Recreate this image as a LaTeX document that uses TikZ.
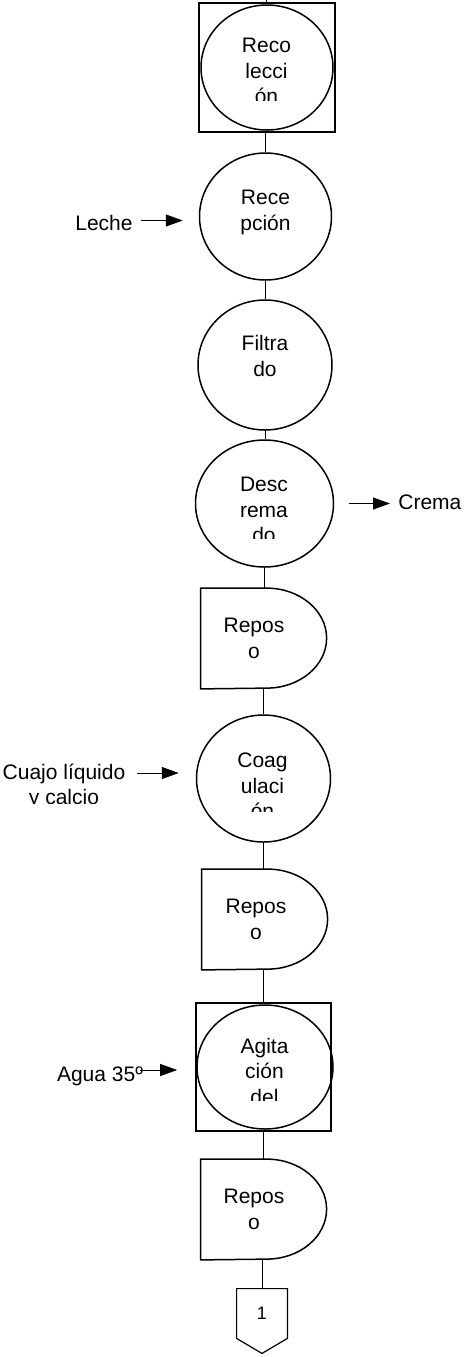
\documentclass[tikz,border=0pt]{standalone}
\usepackage{fontspec}
\setmainfont{Liberation Sans}
\usetikzlibrary{arrows.meta, positioning, calc, shapes.geometric}
\tikzset{
  proc/.style={draw, ellipse, line width=0.75pt, inner sep=0pt},
  sqframe/.style={draw, rectangle, line width=0.85pt, inner sep=0pt},
  lbl/.style={align=center, inner sep=0pt, font=\fontsize{10.5}{12.75}\selectfont},
  waitbox/.style={lbl, rectangle, minimum height=50pt},
  flowline/.style={line width=0.5pt},
  flowarrow/.style={line width=0.5pt, -{Triangle[length=8.5pt, width=6pt]}},
  waitline/.style={line width=0.75pt},
}

\begin{document}
\begin{tikzpicture}[x=0.5pt, y=-0.5pt]
  \useasboundingbox (0,0) rectangle (465,1357);
  % --- recoleccion ---
  \coordinate (top) at (266,0);
  \node[sqframe, minimum width=68pt, minimum height=64.5pt] (recolSq) at (267,67.5) {};
  \node[proc, minimum width=66pt, minimum height=62.5pt] (recol) at (267,67.5) {};
  \begin{scope}
    \clip (200,30) rectangle (334,100);
    \node[lbl] (recolT) at (266.5,71.2) {Reco\\lecci\\ón};
  \end{scope}
  \draw[flowline] (top) -- (top |- recolSq.north);
  % --- recepcion ---
  \node[proc, minimum width=66pt, minimum height=63.5pt] (recep) at (265.5,216.5) {};
  \node[lbl] (recepT) at (265.5,212.5) {Rece\\pción};
  \draw[flowline] (recep.north |- recolSq.south) -- (recep.north);
  \node[lbl] (lecheT) at (104,222.5) {Leche};
  \draw[flowarrow] ([xshift=4pt,yshift=1pt]lecheT.east) -- ([xshift=-8pt,yshift=1pt]lecheT.east -| recep.west);
  % --- filtrado ---
  \node[proc, minimum width=67pt, minimum height=65pt] (filt) at (265,365) {};
  \node[lbl] (filtT) at (265,356.2) {Filtra\\do};
  \draw[flowline] (recep.south) -- (recep.south |- filt.north);
  % --- descremado ---
  \node[proc, minimum width=69pt, minimum height=63.5pt] (desc) at (264.5,503.5) {};
  \begin{scope}
    \clip (196,460) rectangle (333,538);
    \node[lbl] (descT) at (264,510) {Desc\\rema\\do};
  \end{scope}
  \draw[flowline] (filt.south) -- (filt.south |- desc.north);
  \node[lbl, anchor=west] (cremaT) at (398,502.5) {Crema};
  \draw[flowarrow] ([xshift=7.5pt]desc.east) -- ([xshift=-4pt]desc.east -| cremaT.west);
  % --- reposo 1 ---
  \node[waitbox, minimum width=53pt] (rep1) at (254,638.5) {Repos\\o};
  \draw[waitline] (rep1.north west) -- ++(66,0)
    arc[start angle=-90, end angle=90, x radius=60, y radius=50] -- (rep1.south west) -- cycle;
  \draw[flowline] (desc.south) -- (desc.south |- rep1.north);
  % --- coagulacion ---
  \node[proc, minimum width=67pt, minimum height=63.5pt] (coag) at (263.5,778.5) {};
  \begin{scope}
    \clip (197,740) rectangle (330,811.7);
    \node[lbl] (coagT) at (262.5,786) {Coag\\ulaci\\ón};
  \end{scope}
  \draw[flowline] (coag.north |- rep1.south) -- (coag.north);
  \begin{scope}
    \clip (0,750) rectangle (135,803.3);
    \node[lbl] (cuajoT) at (64,786.3) {Cuajo líquido\\y calcio};
  \end{scope}
  \draw[flowarrow] ([xshift=5.5pt,yshift=6.65pt]cuajoT.east) -- ([xshift=-8.5pt,yshift=6.65pt]cuajoT.east -| coag.west);
  % --- reposo 2 ---
  \node[waitbox, minimum width=54pt] (rep2) at (256,919.5) {Repos\\o};
  \draw[waitline] (rep2.north west) -- ++(66,0)
    arc[start angle=-90, end angle=90, x radius=60, y radius=50] -- (rep2.south west) -- cycle;
  \draw[flowline] (coag.south) -- (coag.south |- rep2.north);
  % --- agitacion ---
  \node[sqframe, minimum width=67.5pt, minimum height=64pt] (agitSq) at (263.5,1067) {};
  \node[proc, minimum width=68pt, minimum height=62pt] (agit) at (265,1067) {};
  \begin{scope}
    \clip (197,1030) rectangle (333,1100);
    \node[lbl] (agitT) at (264.5,1071) {Agita\\ción\\del};
  \end{scope}
  \draw[flowline] (agitSq.north |- rep2.south) -- (agitSq.north);
  \node[lbl] (aguaT) at (100,1076.7) {Agua 35º};
  \draw[flowarrow] ([xshift=-1.5pt,yshift=3.35pt]aguaT.east) -- ([xshift=-9pt,yshift=3.35pt]aguaT.east -| agitSq.west);
  % --- reposo 3 ---
  \node[waitbox, minimum width=53pt] (rep3) at (254,1209.5) {Repos\\o};
  \draw[waitline] (rep3.north west) -- ++(66,0)
    arc[start angle=-90, end angle=90, x radius=60, y radius=50] -- (rep3.south west) -- cycle;
  \draw[flowline] (agitSq.south) -- (agitSq.south |- rep3.north);
  % --- conector de pagina ---
  \node[rectangle, inner sep=0pt, minimum width=25pt, minimum height=24.5pt,
        font=\fontsize{9}{11}\selectfont] (pag) at (262,1313.5) {1};
  \draw[line width=0.6pt] (pag.north west) -- (pag.north east) -- (pag.south east)
    -- ($(pag.south)+(0,15)$) -- (pag.south west) -- cycle;
  \draw[flowline] (pag.north |- rep3.south) -- (pag.north);
\end{tikzpicture}
\end{document}
